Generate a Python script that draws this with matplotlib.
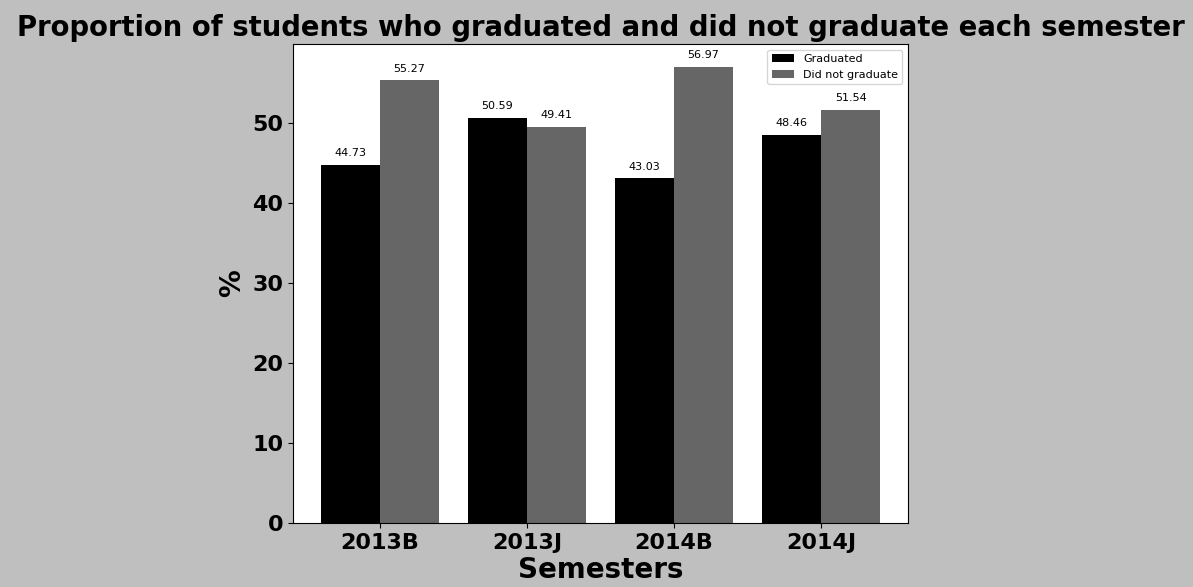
import numpy as np
import matplotlib.pyplot as plt

# data
semesters = ['2013B', '2013J', '2014B', '2014J']
graduated = [44.73, 50.59, 43.03, 48.46]
not_graduated = [55.27, 49.41, 56.97, 51.54]

fig = plt.figure(figsize=(11.93, 5.87), dpi=100, facecolor='#bfbfbf')
ax = fig.add_axes([0.2456, 0.109, 0.5155, 0.816])

x = np.arange(len(semesters))
w = 0.4
b1 = ax.bar(x - w / 2, graduated, w, color='black', label='Graduated')
b2 = ax.bar(x + w / 2, not_graduated, w, color='#666666', label='Did not graduate')

for bars in (b1, b2):
    for rect in bars:
        h = rect.get_height()
        ax.annotate(f'{h:.2f}', xy=(rect.get_x() + rect.get_width() / 2, h),
                    xytext=(0, 5), textcoords='offset points',
                    ha='center', va='bottom', fontsize=8)

ax.set_xticks(x)
ax.set_xticklabels(semesters, fontsize=16, fontweight='bold')
ax.set_yticks([0, 10, 20, 30, 40, 50])
ax.set_yticklabels(['0', '10', '20', '30', '40', '50'], fontsize=16, fontweight='bold')

ax.set_xlabel('Semesters', fontsize=20, fontweight='bold', labelpad=2)
ax.set_ylabel('%', fontsize=20, fontweight='bold')
ax.set_title('Proportion of students who graduated and did not graduate each semester',
             fontsize=19.8, fontweight='bold')
ax.legend(loc='upper right', fontsize=8)

fig.savefig('out.png', dpi=100, facecolor=fig.get_facecolor())
